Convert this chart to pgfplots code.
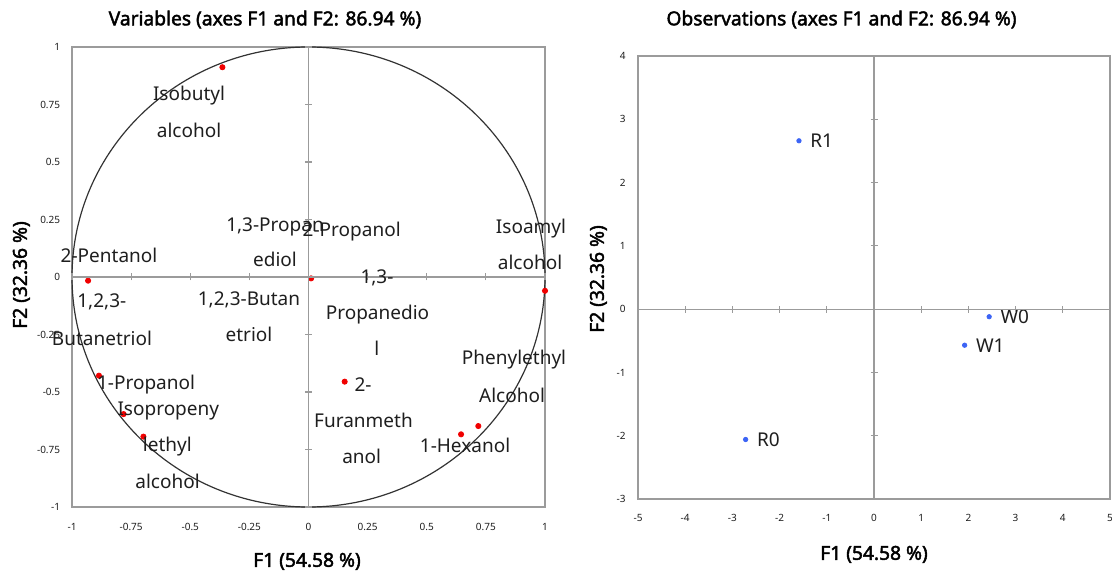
\documentclass[border=0pt]{standalone}
\usepackage{pgfplots}
\pgfplotsset{compat=1.18}
\usepackage{fontspec}
\setmainfont{Noto Sans}
\newfontfamily\ttlfont{Noto Sans}[FakeBold=2.2]
\definecolor{framegray}{RGB}{155,155,155}
\definecolor{ptblue}{RGB}{60,100,245}
\definecolor{ptred}{RGB}{240,0,0}
\definecolor{txt}{RGB}{30,30,30}
\newcommand{\tickfont}{\fontsize{5}{6}\selectfont}
\tikzset{
  lbl/.style={font=\fontsize{9.5}{11}\selectfont, text=txt, inner sep=0pt, text height=6.8pt, text depth=0pt, anchor=center},
  ttl/.style={font=\ttlfont\fontsize{9.6}{11}\selectfont, text=black, inner sep=0pt, text height=6.8pt, text depth=0pt, anchor=center},
}
\newcommand{\lb}[3]{\node[lbl] at ({#1*0.5pt},{(573-#2)*0.5pt}) {#3};}
\pgfplotsset{
  frameaxis/.style={scale only axis, anchor=south west, clip=false,
    axis line style={framegray, line width=0.6pt}, tick style={draw=none},
    xticklabel style={font=\tickfont, text=txt, anchor=center, inner sep=0pt, text height=3.6pt, text depth=0pt},
    yticklabel style={font=\tickfont, text=txt, anchor=east, inner sep=0pt, text height=3.6pt, text depth=0pt}},
  midaxis/.style={scale only axis, anchor=south west, axis lines=middle,
    every inner x axis line/.append style={-}, every inner y axis line/.append style={-},
    axis line style={framegray, line width=0.6pt}, xticklabels={}, yticklabels={},
    tick align=center, major tick length=3.5pt, tick style={framegray, line width=0.6pt}},
}
\begin{document}
\begin{tikzpicture}
\useasboundingbox (0,0) rectangle (556pt,286.5pt);
% ---------------- left: variables ----------------
\begin{axis}[frameaxis, at={(36pt,33pt)}, width=236.5pt, height=230pt,
  xmin=-1, xmax=1, ymin=-1, ymax=1,
  xtick={-1,-0.75,-0.5,-0.25,0,0.25,0.5,0.75,1},
  xticklabels={-1,-0.75,-0.5,-0.25,0,0.25,0.5,0.75,1},
  ytick={-1,-0.75,-0.5,-0.25,0,0.25,0.5,0.75,1},
  yticklabels={-1,-0.75,-0.5,-0.25,0,0.25,0.5,0.75,1},
  xticklabel style={yshift=-10pt}, yticklabel style={xshift=-5.75pt}]
\draw[black!80, line width=0.6pt] (axis cs:0,0) ellipse [x radius=1, y radius=1];
\addplot[only marks, mark=*, mark size=1.3pt, mark options={draw=ptred, fill=ptred}] coordinates {
(-0.364,0.912) (-0.932,-0.016) (0.011,-0.006) (1.0,-0.06) (0.153,-0.455)
(0.645,-0.684) (0.718,-0.648) (-0.886,-0.429) (-0.782,-0.596) (-0.698,-0.694)};
\end{axis}
\begin{axis}[midaxis, at={(36pt,33pt)}, width=236.5pt, height=230pt,
  xmin=-1, xmax=1, ymin=-1, ymax=1,
  xtick={-1,-0.75,-0.5,-0.25,0,0.25,0.5,0.75,1},
  ytick={-1,-0.75,-0.5,-0.25,0,0.25,0.5,0.75,1}]
\addplot[draw=none] coordinates {(0,0)};
\end{axis}
% ---------------- right: observations ----------------
\begin{axis}[frameaxis, at={(319pt,37pt)}, width=236pt, height=221.5pt,
  xmin=-5, xmax=5, ymin=-3, ymax=4,
  xtick={-5,-4,-3,-2,-1,0,1,2,3,4,5},
  xticklabels={-5,-4,-3,-2,-1,0,1,2,3,4,5},
  ytick={-3,-2,-1,0,1,2,3,4},
  yticklabels={-3,-2,-1,0,1,2,3,4},
  xticklabel style={yshift=-9.5pt}, yticklabel style={xshift=-6pt}]
\addplot[only marks, mark=*, mark size=1.1pt, mark options={draw=ptblue, fill=ptblue},
  nodes near coords, point meta=explicit symbolic,
  every node near coord/.append style={lbl, anchor=west, xshift=5.5pt}] coordinates {
(-1.59,2.66) [R1]
(-2.72,-2.06) [R0]
(2.44,-0.12) [W0]
(1.92,-0.57) [W1]};
\end{axis}
\begin{axis}[midaxis, at={(319pt,37pt)}, width=236pt, height=221.5pt,
  xmin=-5, xmax=5, ymin=-3, ymax=4,
  xtick={-5,-4,-3,-2,-1,0,1,2,3,4,5}, ytick={-3,-2,-1,0,1,2,3,4}]
\addplot[draw=none] coordinates {(0,0)};
\end{axis}
% ---------------- variable labels ----------------
\lb{189}{93.3}{Isobutyl}
\lb{189}{130.7}{alcohol}
\lb{109}{256}{2-Pentanol}
\lb{275}{224.3}{1,3-Propan}
\lb{275}{260}{ediol}
\lb{351.7}{230}{2-Propanol}
\lb{377}{276.7}{1,3-}
\lb{377.5}{312.3}{Propanedio}
\lb{376.7}{349}{l}
\lb{531}{227}{Isoamyl}
\lb{530}{263}{alcohol}
\lb{514}{358}{Phenylethyl}
\lb{512}{396}{Alcohol}
\lb{363}{385}{2-}
\lb{363.5}{420.7}{Furanmeth}
\lb{361.7}{457}{anol}
\lb{465}{445.7}{1-Hexanol}
\lb{101.8}{300.7}{1,2,3-}
\lb{102}{339}{Butanetriol}
\lb{249}{298.3}{1,2,3-Butan}
\lb{249}{335}{etriol}
\lb{146}{383}{1-Propanol}
\lb{168.3}{408.3}{Isopropeny}
\lb{167.3}{445}{lethyl}
\lb{167.5}{481.7}{alcohol}
% ---------------- titles and axis labels ----------------
\node[ttl] at ({265*0.5pt},{(573-18.5)*0.5pt}) {Variables (axes F1 and F2: 86.94 \%)};
\node[ttl] at ({841.5*0.5pt},{(573-18.5)*0.5pt}) {Observations (axes F1 and F2: 86.94 \%)};
\node[ttl] at ({307*0.5pt},{(573-560)*0.5pt}) {F1 (54.58 \%)};
\node[ttl] at ({874*0.5pt},{(573-553)*0.5pt}) {F1 (54.58 \%)};
\node[ttl, rotate=90] at ({20*0.5pt},{(573-275)*0.5pt}) {F2 (32.36 \%)};
\node[ttl, rotate=90] at ({597*0.5pt},{(573-279)*0.5pt}) {F2 (32.36 \%)};
\end{tikzpicture}
\end{document}
